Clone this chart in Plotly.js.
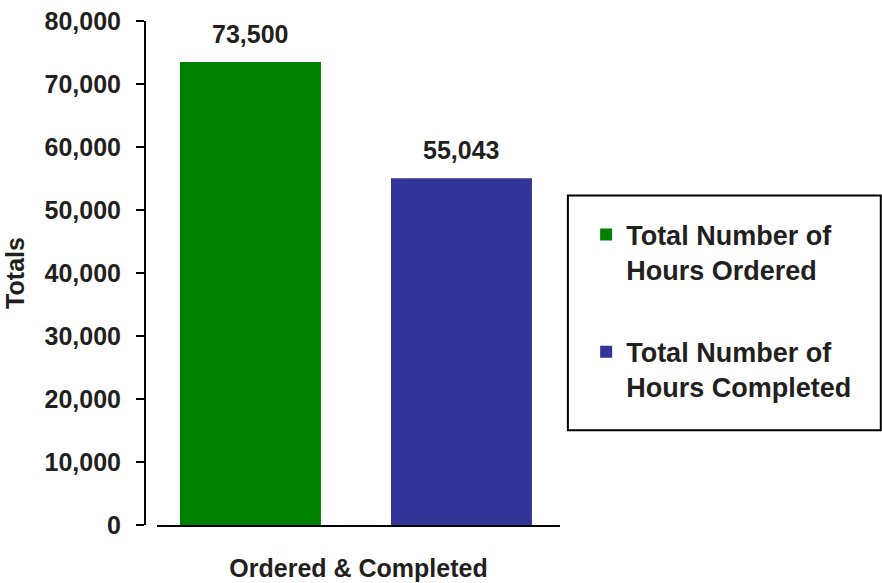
<!DOCTYPE html>
<html>
<head>
<meta charset="utf-8">
<script src="https://cdn.plot.ly/plotly-3.0.1.min.js"></script>
<style>html,body{margin:0;padding:0;background:#fff;}#chart{width:882px;height:583px;}</style>
</head>
<body>
<div id="chart"></div>
<script>
const seriesNames = ["Total Number of<br>Hours Ordered", "Total Number of<br>Hours Completed"];
const categories = ["Ordered", "Completed"];
const values = [73500, 55043];
const colors = ["#008000", "#333399"];
const yTickVals = [0, 10000, 20000, 30000, 40000, 50000, 60000, 70000, 80000];
const xTitle = "Ordered & Completed";
const yTitle = "Totals";

const FONT = "Liberation Sans, Arial, sans-serif";
const TXT = "#231f20";
const F = { family: FONT, size: 25, color: TXT, weight: "bold" };
const FL = { family: FONT, size: 27, color: TXT, weight: "bold" };

const traces = values.map((v, i) => ({
  type: "bar",
  name: seriesNames[i],
  x: [categories[i]],
  y: [v],
  marker: { color: colors[i], line: { width: 0 } },
  legendgroup: "g" + i,
  hoverinfo: "skip"
}));

const annotations = values.map((v, i) => ({
  x: categories[i], y: v, xref: "x", yref: "y",
  text: v.toLocaleString("en-US"),
  showarrow: false, yanchor: "bottom", yshift: 12,
  font: F
}));

const layout = {
  width: 882, height: 583,
  margin: { l: 145, r: 322, t: 21, b: 58 },
  paper_bgcolor: "#fff", plot_bgcolor: "#fff",
  barmode: "overlay", bargap: 0.332,
  showlegend: true,
  font: F,
  xaxis: {
    type: "category",
    domain: [0.029, 1],
    range: [-0.443, 1.467],
    showticklabels: false, ticks: "",
    showline: true, linecolor: "#000", linewidth: 2,
    showgrid: false, zeroline: false,
    title: { text: xTitle, font: F, standoff: 33 }
  },
  yaxis: {
    anchor: "free", position: 0,
    range: [0, 80000],
    tickvals: yTickVals,
    ticktext: yTickVals.map(v => v.toLocaleString("en-US")),
    ticks: "outside", ticklen: 8, tickwidth: 2, tickcolor: "#000",
    ticklabelstandoff: 10,
    tickfont: F,
    showline: true, linecolor: "#000", linewidth: 2,
    showgrid: false, zeroline: false,
    title: { text: yTitle, font: F, standoff: 12 }
  },
  legend: {
    x: 1.063, xanchor: "left", y: 0.624, yanchor: "top",
    bgcolor: "rgba(0,0,0,0)", borderwidth: 0,
    font: FL,
    tracegroupgap: 44, valign: "top", traceorder: "grouped"
  },
  shapes: [{
    type: "rect", xref: "paper", yref: "paper",
    x0: 1.019, x1: 1.773, y0: 0.188, y1: 0.654,
    line: { color: "#000", width: 2 }, fillcolor: "rgba(0,0,0,0)", layer: "below"
  }],
  annotations: annotations
};

Plotly.newPlot("chart", traces, layout, { displayModeBar: false, staticPlot: true });
</script>
</body>
</html>
